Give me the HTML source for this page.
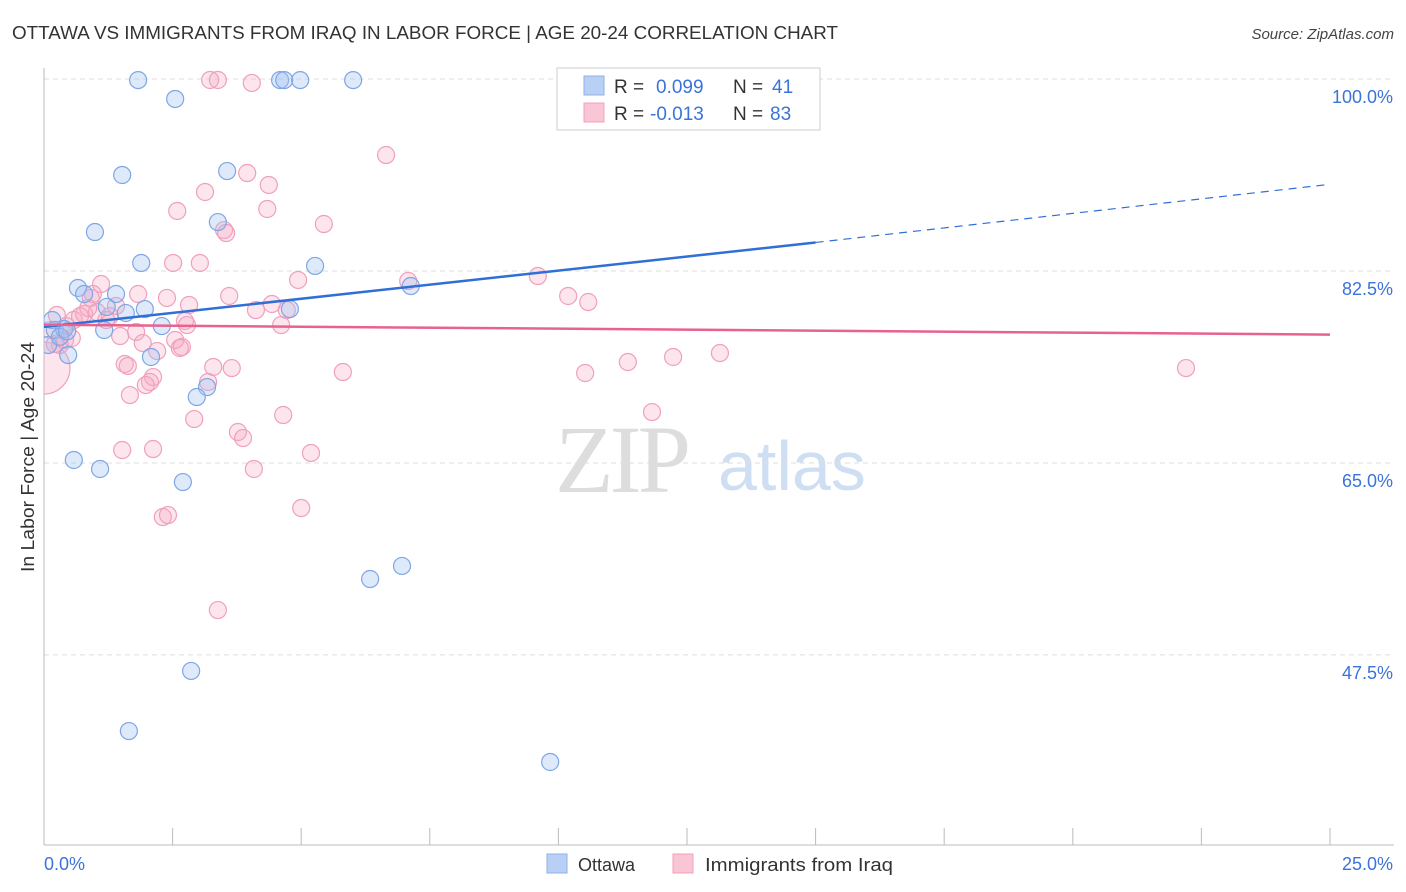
<!DOCTYPE html>
<html><head><meta charset="utf-8"><style>
body{margin:0;background:#fff;font-family:"Liberation Sans",sans-serif;}
</style></head><body>
<svg id="chart" width="1406" height="892" xmlns="http://www.w3.org/2000/svg" style="display:block">
<defs><clipPath id="plotclip"><rect x="44" y="60" width="1360" height="785"/></clipPath></defs>
<text x="12" y="39" font-size="18" fill="#333" font-family="Liberation Sans" textLength="826" lengthAdjust="spacingAndGlyphs">OTTAWA VS IMMIGRANTS FROM IRAQ IN LABOR FORCE | AGE 20-24 CORRELATION CHART</text>
<text x="1394" y="39" font-size="15" fill="#444" text-anchor="end" font-style="italic">Source: ZipAtlas.com</text>
<text transform="translate(34,457) rotate(-90)" font-size="18" fill="#333" text-anchor="middle" textLength="230" lengthAdjust="spacingAndGlyphs">In Labor Force | Age 20-24</text>
<g>
<text x="555" y="492" font-size="96" fill="#ddd" font-family="Liberation Serif" letter-spacing="-4">ZIP</text>
<text x="718" y="490" font-size="70" fill="#cfdff3">atlas</text>
</g>
<g id="grid"></g><g id="axes"></g><g id="pts" clip-path="url(#plotclip)"></g><g id="lines"></g>
<g>
<rect x="557" y="68" width="263" height="62" fill="#fff" stroke="#ccc"/>
<rect x="584" y="76" width="20" height="19" fill="#b8d0f4" stroke="#8fb0e6"/>
<rect x="584" y="103" width="20" height="19" fill="#f9c6d5" stroke="#f0a0bc"/>
<text x="614" y="93" font-size="19" fill="#333">R =</text>
<text x="656" y="93" font-size="19" fill="#3b73d9">0.099</text>
<text x="733" y="93" font-size="19" fill="#333">N =</text>
<text x="772" y="93" font-size="19" fill="#3b73d9">41</text>
<text x="614" y="120" font-size="19" fill="#333">R =</text>
<text x="650" y="120" font-size="19" fill="#3b73d9">-0.013</text>
<text x="733" y="120" font-size="19" fill="#333">N =</text>
<text x="770" y="120" font-size="19" fill="#3b73d9">83</text>
</g>
<g>
<rect x="547" y="854" width="20" height="19" fill="#b8d0f4" stroke="#8fb0e6"/>
<text x="578" y="871" font-size="18" fill="#333">Ottawa</text>
<rect x="673" y="854" width="20" height="19" fill="#f9c6d5" stroke="#f0a0bc"/>
<text x="705" y="871" font-size="18" fill="#333" textLength="188" lengthAdjust="spacingAndGlyphs">Immigrants from Iraq</text>
</g>
</svg>
<script>
const yTicks=[100,82.5,65,47.5];
const yTickLabels=["100.0%","82.5%","65.0%","47.5%"];
const xTickLabels=["0.0%","25.0%"];
const ottawaX=[1.83,2.55,4.59,4.67,4.98,6.01,1.52,3.56,0.99,3.38,1.89,5.27,0.66,0.78,1.40,1.96,1.59,1.22,4.78,7.13,2.29,1.17,0.16,0.21,0.39,0.08,0.47,2.08,3.17,2.97,0.58,1.09,2.70,6.34,6.96,2.86,1.65,9.84,11.78,0.31,0.45];
const ottawaY=[99.9,98.18,99.9,99.9,99.9,99.9,91.25,91.61,86.05,86.96,83.23,82.96,80.95,80.40,80.40,79.03,78.67,79.22,79.03,81.13,77.48,77.12,78.03,77.12,77.21,75.75,74.84,74.66,71.92,71.01,65.27,64.45,63.26,54.42,55.61,46.04,40.56,37.74,99.9,76.5,77.0];
const iraqX=[3.23,3.38,4.04,6.65,3.95,3.13,4.37,2.59,4.34,5.44,3.50,3.54,2.51,3.03,4.94,7.08,9.60,10.19,10.58,1.11,0.95,1.83,2.39,2.82,3.60,4.12,4.43,4.72,4.61,2.74,2.78,0.25,0.58,0.78,1.03,1.28,1.48,1.79,1.92,2.20,2.64,0.41,0.31,0.54,1.57,1.63,3.29,3.65,2.12,2.06,1.98,1.67,3.19,5.81,10.52,11.35,12.23,13.14,22.20,2.92,3.77,3.87,4.65,1.52,2.12,4.08,5.19,2.31,2.41,5.00,3.38,11.82,0.0,0.21,0.70,1.40,0.12,0.43,0.86,1.21,0.91,2.55,2.68];
const iraqY=[99.91,99.91,99.64,93.07,91.43,89.70,90.34,87.97,88.15,86.78,86.23,85.96,83.23,83.23,81.68,81.59,82.04,80.22,79.67,81.31,80.40,80.40,80.04,79.40,80.22,78.94,79.49,78.94,77.57,77.94,77.57,78.49,78.03,78.58,78.76,78.39,76.57,76.94,75.93,75.20,75.48,76.21,75.75,76.39,74.02,73.84,73.75,73.65,72.83,72.38,72.10,71.19,72.38,73.29,73.20,74.20,74.66,75.02,73.65,69.00,67.82,67.27,69.37,66.18,66.27,64.45,65.91,60.07,60.25,60.89,51.59,69.64,73.65,75.84,78.39,79.31,77.12,77.48,79.12,78.03,80.04,76.21,75.57];
const ottawaTrend=[[0,77.4],[15,85.1],[25,90.4]];
const iraqTrend=[[0,77.6],[25,76.7]];
const NS="http://www.w3.org/2000/svg";
const sx=v=>44+v/25*1286, sy=v=>79+(100-v)*10.97;
function mk(p,t,a){const e=document.createElementNS(NS,t);for(const k in a)e.setAttribute(k,a[k]);document.getElementById(p).appendChild(e);return e;}
yTicks.forEach((v,i)=>{
 const l=mk('grid','line',{x1:44,x2:1394,y1:sy(v),y2:sy(v),stroke:'#ddd','stroke-dasharray':'5,4'});
 
 
 const t=mk('axes','text',{x:1393,y:sy(v)+24,'font-size':18,fill:'#3b73d9','text-anchor':'end'});t.textContent=yTickLabels[i];
 
 
});
mk('axes','line',{x1:44,x2:44,y1:68,y2:845,stroke:'#bbb'});
mk('axes','line',{x1:44,x2:1394,y1:845,y2:845,stroke:'#bbb'});
for(let i=0;i<=10;i++){const x=sx(i*2.5);const tk=mk('axes','line',{x1:x,x2:x,y1:828,y2:845,stroke:'#bbb'});
 
 }
const xl0=mk('axes','text',{x:44,y:870,'font-size':18,fill:'#3b73d9'});xl0.textContent=xTickLabels[0];


const xl1=mk('axes','text',{x:1393,y:870,'font-size':18,fill:'#3b73d9','text-anchor':'end'});xl1.textContent=xTickLabels[1];


iraqX.forEach((v,i)=>{const big=(v===0&&iraqY[i]<74);
 const c=mk('pts','circle',{cx:sx(v),cy:sy(iraqY[i]),r:big?26:8.5,fill:'rgba(246,170,196,0.3)',stroke:'#f0a0bc','stroke-width':1.2});
 
 });
ottawaX.forEach((v,i)=>{
 const c=mk('pts','circle',{cx:sx(v),cy:sy(ottawaY[i]),r:8.5,fill:'rgba(160,192,240,0.35)',stroke:'#7fa6e6','stroke-width':1.2});
 
 });
const b1=mk('lines','line',{x1:sx(ottawaTrend[0][0]),y1:sy(ottawaTrend[0][1]),x2:sx(ottawaTrend[1][0]),y2:sy(ottawaTrend[1][1]),stroke:'#2f6fd6','stroke-width':2.5});


const b2=mk('lines','line',{x1:sx(ottawaTrend[1][0]),y1:sy(ottawaTrend[1][1]),x2:sx(ottawaTrend[2][0]),y2:sy(ottawaTrend[2][1]),stroke:'#2f6fd6','stroke-width':1.2,'stroke-dasharray':'8,6'});


const p1=mk('lines','line',{x1:sx(iraqTrend[0][0]),y1:sy(iraqTrend[0][1]),x2:sx(iraqTrend[1][0]),y2:sy(iraqTrend[1][1]),stroke:'#e8628f','stroke-width':2.5});


</script>
</body></html>
